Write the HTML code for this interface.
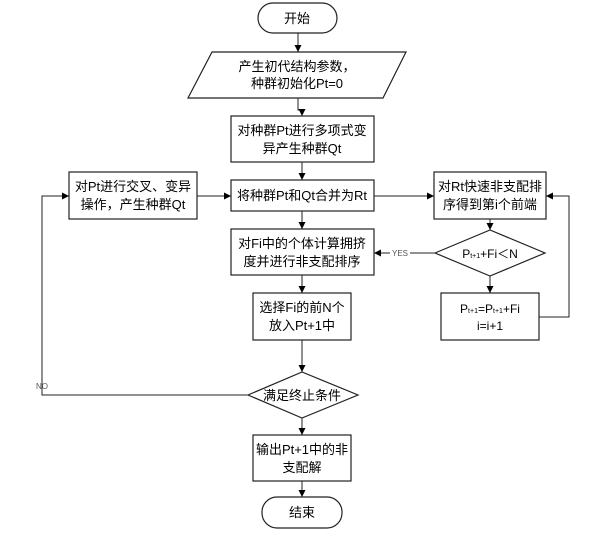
<!DOCTYPE html>
<html><head><meta charset="utf-8"><style>
body{margin:0;background:#fff}
text{font-family:"Liberation Sans","Noto Sans CJK SC",sans-serif;font-size:13px;fill:#000;text-anchor:middle}
.s{font-size:8px;fill:#555}
</style></head><body>
<svg width="607" height="534" viewBox="0 0 607 534" xmlns="http://www.w3.org/2000/svg">
<defs><marker id="a" markerWidth="8" markerHeight="8" refX="7" refY="4" orient="auto" markerUnits="userSpaceOnUse"><path d="M0,0.5 L7,4 L0,7.5z" fill="#000"/></marker></defs>
<g fill="none" stroke="#222" stroke-width="1.2">
<rect x="258" y="3" width="79" height="30" rx="15"/>
<polygon points="212,52 406,52 383,98 188,98"/>
<rect x="231" y="116" width="143" height="46"/>
<rect x="69" y="172" width="128" height="47"/>
<rect x="231" y="180" width="143" height="31"/>
<rect x="434" y="172" width="112" height="47"/>
<rect x="231" y="229" width="143" height="46"/>
<polygon points="435,253 490,230 545,253 490,276"/>
<rect x="253" y="293" width="98" height="47"/>
<rect x="441" y="293" width="98" height="47"/>
<polygon points="248,395 302,372 358,395 302,418"/>
<rect x="253" y="435" width="98" height="46"/>
<rect x="262" y="497" width="80" height="31" rx="15"/>
</g>
<g fill="none" stroke="#222" stroke-width="1" marker-end="url(#a)">
<path d="M298,33 V52"/>
<path d="M298,98 V110 H302 V116"/>
<path d="M302,162 V180"/>
<path d="M197,196 H231"/>
<path d="M374,196 H434"/>
<path d="M302,211 V229"/>
<path d="M490,219 V230"/>
<path d="M435,253 H374"/>
<path d="M490,276 V293"/>
<path d="M539,317 H569 V196 H546"/>
<path d="M302,275 V293"/>
<path d="M302,340 V372"/>
<path d="M248,395 H42 V196 H69"/>
<path d="M302,418 V435"/>
<path d="M302,481 V497"/>
</g>
<rect x="390" y="248" width="20" height="10" fill="#fff"/>
<text x="400" y="256" class="s">YES</text>
<text x="42" y="389" class="s">NO</text>
<text x="297" y="23">开始</text>
<text x="297" y="71">产生初代结构参数，</text>
<text x="297" y="88">种群初始化Pt=0</text>
<text x="302" y="135">对种群Pt进行多项式变</text>
<text x="302" y="153">异产生种群Qt</text>
<text x="133" y="191">对Pt进行交叉、变异</text>
<text x="133" y="209">操作，产生种群Qt</text>
<text x="302" y="200">将种群Pt和Qt合并为Rt</text>
<text x="490" y="191">对Rt快速非支配排</text>
<text x="490" y="209">序得到第i个前端</text>
<text x="302" y="248">对Fi中的个体计算拥挤</text>
<text x="302" y="266">度并进行非支配排序</text>
<text x="490" y="258" style="font-size:12px">P<tspan style="font-size:7px">t+1</tspan>+Fi＜N</text>
<text x="302" y="312">选择Fi的前N个</text>
<text x="302" y="330">放入Pt+1中</text>
<text x="490" y="313" style="font-size:12px">P<tspan style="font-size:7px">t+1</tspan>=P<tspan style="font-size:7px">t+1</tspan>+Fi</text>
<text x="490" y="330" style="font-size:12px">i=i+1</text>
<text x="302" y="400">满足终止条件</text>
<text x="302" y="454">输出Pt+1中的非</text>
<text x="302" y="472">支配解</text>
<text x="302" y="517">结束</text>
</svg>
</body></html>
